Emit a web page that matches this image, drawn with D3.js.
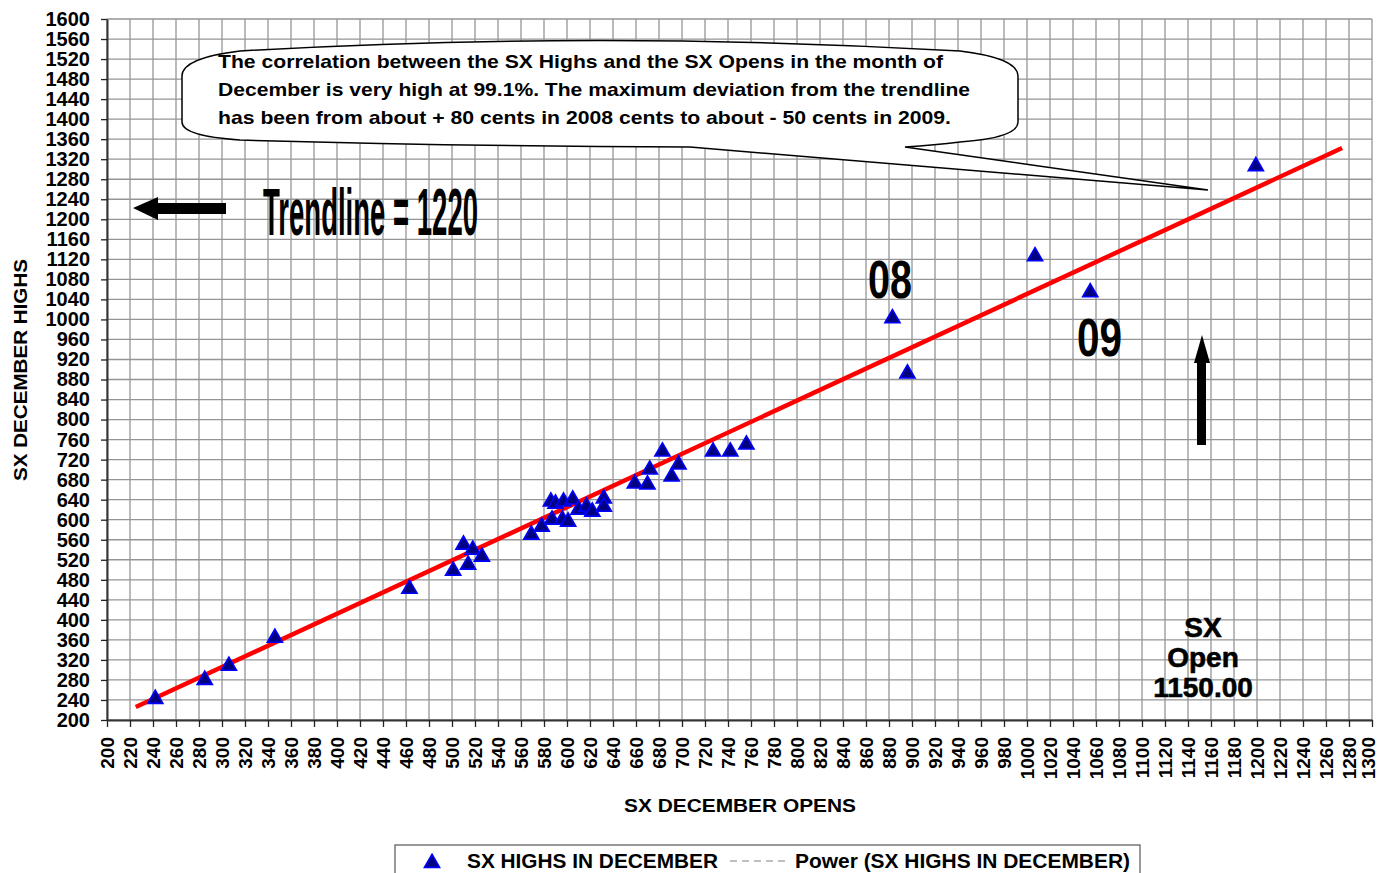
<!DOCTYPE html>
<html>
<head>
<meta charset="utf-8">
<script src="https://d3js.org/d3.v7.min.js"></script>
<style>
  body { margin: 0; background: #fff; }
  text { font-family: "Liberation Sans", Arial, sans-serif; font-weight: bold; }
</style>
</head>
<body>
<div id="sx_graph"></div>

<script>
  // SX December opens (x) and highs (y)
  var opens = [242, 285, 306, 346, 463, 501, 510, 514, 518, 526, 569, 578, 586, 587, 590,
               596, 597, 601, 605, 610, 617, 622, 632, 632, 659, 670, 672, 683, 691, 697,
               727, 742, 756, 883, 896, 1007, 1055, 1199];
  var highs = [246, 284, 312, 368, 466, 502, 554, 514, 544, 530, 574, 590, 640, 604, 636,
               604, 640, 600, 644, 624, 630, 620, 646, 630, 676, 674, 704, 740, 690, 714,
               740, 740, 754, 1006, 896, 1130, 1058, 1310];

  var xTicks = d3.range(200, 1301, 20);
  var yTicks = d3.range(200, 1601, 40);
  var trendRange = [225, 1274];

  var calloutLines = [
    "The correlation between the SX Highs and the SX Opens in the month of",
    "December is very high at 99.1%. The maximum deviation from the trendline",
    "has been from about + 80 cents in 2008 cents to about - 50 cents in 2009."
  ];
  var openLines = ["SX", "Open", "1150.00"];
  var legendLabels = ["SX HIGHS IN DECEMBER", "Power (SX HIGHS IN DECEMBER)"];

  var data = opens.map(function(d, i) { return {open: d, high: highs[i]}; });

  var margin = {top: 19, right: 7, bottom: 153, left: 107},
      width = 1379 - margin.left - margin.right,
      height = 873 - margin.top - margin.bottom;

  var root = d3.select("#sx_graph")
    .append("svg")
      .attr("width", 1379)
      .attr("height", 873);

  var svg = root.append("g")
      .attr("transform", "translate(" + margin.left + "," + margin.top + ")");

  var x_scale = d3.scaleLinear().domain([200, 1300]).range([0, width]);
  var y_scale = d3.scaleLinear().domain([200, 1600]).range([height, 0]);

  // grid
  svg.append("g").selectAll("line.v")
    .data(xTicks)
    .enter().append("line")
      .attr("x1", function(d) { return x_scale(d); })
      .attr("x2", function(d) { return x_scale(d); })
      .attr("y1", 0).attr("y2", height)
      .attr("stroke", "#959595").attr("stroke-width", 1.3);

  svg.append("g").selectAll("line.h")
    .data(yTicks)
    .enter().append("line")
      .attr("y1", function(d) { return y_scale(d); })
      .attr("y2", function(d) { return y_scale(d); })
      .attr("x1", 0).attr("x2", width)
      .attr("stroke", "#959595").attr("stroke-width", 1.3);

  // axes
  var x_axis = d3.axisBottom(x_scale).tickValues(xTicks).tickFormat(d3.format("d"))
    .tickSize(7).tickSizeOuter(0);
  var gx = svg.append("g")
    .attr("transform", "translate(0," + height + ")")
    .call(x_axis);
  gx.selectAll("text")
    .attr("transform", "rotate(-90)")
    .attr("text-anchor", "end")
    .attr("x", -17)
    .attr("y", 0)
    .attr("dy", function(d) { return d === 1300 ? "0.12em" : "0.33em"; }) // last one sits on the page edge
    .style("font-size", "19px")
    .attr("fill", "#000");

  var y_axis = d3.axisLeft(y_scale).tickValues(yTicks).tickFormat(d3.format("d"))
    .tickSize(6).tickPadding(11).tickSizeOuter(0);
  var gy = svg.append("g").call(y_axis);
  gy.selectAll("text")
    .style("font-size", "20px")
    .attr("fill", "#000");

  [gx, gy].forEach(function(g) {
    g.select(".domain").attr("stroke", "#333").attr("stroke-width", 2);
    g.selectAll(".tick line").attr("stroke", "#222").attr("stroke-width", 1.3);
  });

  root.append("text")
    .attr("transform", "translate(27,370) rotate(-90)")
    .attr("text-anchor", "middle")
    .attr("textLength", 222).attr("lengthAdjust", "spacingAndGlyphs")
    .style("font-size", "19px")
    .text("SX DECEMBER HIGHS");

  root.append("text")
    .attr("x", 740).attr("y", 812)
    .attr("text-anchor", "middle")
    .attr("textLength", 232).attr("lengthAdjust", "spacingAndGlyphs")
    .style("font-size", "19px")
    .text("SX DECEMBER OPENS");

  // power trendline, least squares in log-log space
  var lx = opens.map(Math.log), ly = highs.map(Math.log);
  var mx = d3.mean(lx), my = d3.mean(ly);
  var b = d3.sum(lx, function(v, i) { return (v - mx) * (ly[i] - my); }) /
          d3.sum(lx, function(v) { return (v - mx) * (v - mx); });
  var a = Math.exp(my - b * mx);
  var trend = function(v) { return a * Math.pow(v, b); };

  svg.append("path")
    .datum(trendRange)
    .attr("d", d3.line()
      .x(function(d) { return x_scale(d); })
      .y(function(d) { return y_scale(trend(d)); }))
    .attr("stroke", "#ff0000")
    .attr("stroke-width", 4.5)
    .attr("fill", "none");

  // markers (nudged so the triangle box, not its centroid, sits on the value)
  var tri = d3.symbol().type(d3.symbolTriangle).size(100);
  svg.append("g")
    .selectAll("path")
    .data(data)
    .enter()
    .append("path")
      .attr("d", tri)
      .attr("transform", function(d) { return "translate(" + x_scale(d.open) + "," + (y_scale(d.high) + 2) + ")"; })
      .attr("fill", "#000080")
      .attr("stroke", "#0000ff")
      .attr("stroke-width", 1.6);

  // callout bubble
  root.append("path")
    .attr("d", "M182,122 L182,76 Q182,58 240,51 Q600,30 960,51 Q1018,58 1018,76 L1018,122" +
               " Q1018,138 960,142 Q935,145 905,147 L1208,190 L690,147 Q450,146 240,140 Q182,136 182,122 Z")
    .attr("fill", "#fff")
    .attr("stroke", "#000")
    .attr("stroke-width", 1.5);

  var calloutLen = [725, 752, 733];
  root.append("g").selectAll("text")
    .data(calloutLines)
    .enter().append("text")
      .attr("x", 218)
      .attr("y", function(d, i) { return 68 + i * 28; })
      .attr("textLength", function(d, i) { return calloutLen[i]; })
      .attr("lengthAdjust", "spacingAndGlyphs")
      .style("font-size", "19px")
      .text(function(d) { return d; });

  // Trendline label and left arrow
  root.append("text")
    .attr("x", 263).attr("y", 235)
    .attr("textLength", 215).attr("lengthAdjust", "spacingAndGlyphs")
    .style("font-size", "66px")
    .text("Trendline = 1220");

  root.append("path")
    .attr("d", "M133,208 L158,197 L158,203 L226,203 L226,214 L158,214 L158,220 Z")
    .attr("fill", "#000");

  // year labels
  root.append("text")
    .attr("x", 868).attr("y", 298)
    .attr("textLength", 44).attr("lengthAdjust", "spacingAndGlyphs")
    .style("font-size", "53px")
    .text("08");
  root.append("text")
    .attr("x", 1077).attr("y", 356)
    .attr("textLength", 45).attr("lengthAdjust", "spacingAndGlyphs")
    .style("font-size", "53px")
    .text("09");

  // up arrow
  root.append("path")
    .attr("d", "M1202,335 L1210,363 L1206,363 L1206,445 L1197,445 L1197,363 L1194,363 Z")
    .attr("fill", "#000");

  // SX Open label
  root.append("g").selectAll("text")
    .data(openLines)
    .enter().append("text")
      .attr("x", 1203)
      .attr("y", function(d, i) { return 637 + i * 30; })
      .attr("text-anchor", "middle")
      .attr("stroke", "#000").attr("stroke-width", 0.6)
      .style("font-size", "28px")
      .text(function(d) { return d; });

  // legend
  root.append("rect")
    .attr("x", 395).attr("y", 845)
    .attr("width", 745).attr("height", 40)
    .attr("fill", "#fff")
    .attr("stroke", "#555").attr("stroke-width", 1.2);

  root.append("path")
    .attr("d", tri)
    .attr("transform", "translate(432,863)")
    .attr("fill", "#000080")
    .attr("stroke", "#0000ff")
    .attr("stroke-width", 1.6);

  root.append("line")
    .attr("x1", 730).attr("x2", 786)
    .attr("y1", 861).attr("y2", 861)
    .attr("stroke", "#aaa").attr("stroke-width", 1.3)
    .attr("stroke-dasharray", "7,5");

  var legendX = [467, 795], legendLen = [251, 335];
  root.append("g").selectAll("text")
    .data(legendLabels)
    .enter().append("text")
      .attr("x", function(d, i) { return legendX[i]; })
      .attr("y", 868)
      .attr("textLength", function(d, i) { return legendLen[i]; })
      .attr("lengthAdjust", "spacingAndGlyphs")
      .style("font-size", "20px")
      .text(function(d) { return d; });
</script>
</body>
</html>
